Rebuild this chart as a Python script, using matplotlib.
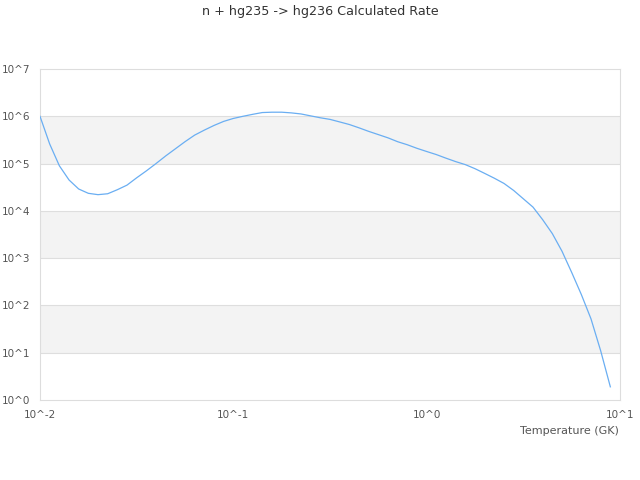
import math
import matplotlib
matplotlib.use("Agg")
import matplotlib.pyplot as plt
from matplotlib.ticker import FuncFormatter, FixedLocator

title = "n + hg235 -> hg236 Calculated Rate"
xlabel = "Temperature (GK)"

temperature = [
    0.01, 0.01122, 0.01259, 0.01413, 0.01585, 0.01778, 0.01995, 0.02239, 0.02512, 0.02818,
    0.03162, 0.03548, 0.03981, 0.04467, 0.05012, 0.05623, 0.0631, 0.07079, 0.07943, 0.08913,
    0.1, 0.1122, 0.1259, 0.1413, 0.1585, 0.1778, 0.1995, 0.2239, 0.2512, 0.2818,
    0.3162, 0.3548, 0.3981, 0.4467, 0.5012, 0.5623, 0.631, 0.7079, 0.7943, 0.8913,
    1.0, 1.122, 1.259, 1.413, 1.585, 1.778, 1.995, 2.239, 2.512, 2.818,
    3.162, 3.548, 3.981, 4.467, 5.012, 5.623, 6.31, 7.079, 7.943, 8.913,
]
rate = [
    1.0e6, 2.6e5, 9.0e4, 4.5e4, 2.9e4, 2.35e4, 2.2e4, 2.3e4, 2.8e4, 3.5e4,
    5.0e4, 7.0e4, 1.0e5, 1.45e5, 2.05e5, 2.9e5, 4.0e5, 5.1e5, 6.4e5, 7.8e5,
    9.0e5, 1.0e6, 1.1e6, 1.2e6, 1.22e6, 1.22e6, 1.18e6, 1.12e6, 1.02e6, 9.3e5,
    8.6e5, 7.6e5, 6.7e5, 5.7e5, 4.8e5, 4.1e5, 3.5e5, 2.9e5, 2.5e5, 2.1e5,
    1.8e5, 1.55e5, 1.3e5, 1.1e5, 9.5e4, 7.8e4, 6.2e4, 4.9e4, 3.8e4, 2.7e4,
    1.8e4, 1.2e4, 6.5e3, 3.3e3, 1.4e3, 5.0e2, 1.7e2, 52, 11, 1.9,
]
y_exponents = [0, 1, 2, 3, 4, 5, 6, 7]
x_exponents = [-2, -1, 0, 1]
band_exponents = [(1, 2), (3, 4), (5, 6)]

fig = plt.figure(figsize=(6.4, 4.8), dpi=100)
ax = fig.add_axes([40/640, 80/480, 580/640, 331/480])
ax.set_xscale("log")
ax.set_yscale("log")
ax.set_xlim(10**x_exponents[0], 10**x_exponents[-1])
ax.set_ylim(10**y_exponents[0], 10**y_exponents[-1])

for lo, hi in band_exponents:
    ax.axhspan(10**lo, 10**hi, color="#f3f3f3", zorder=0, lw=0)
for e in y_exponents[1:-1]:
    ax.axhline(10**e, color="#dedede", lw=0.8, zorder=1)

ax.plot(temperature, rate, color="#6aaef2", lw=0.9, zorder=3)

ax.yaxis.set_major_locator(FixedLocator([10**e for e in y_exponents]))
ax.xaxis.set_major_locator(FixedLocator([10**e for e in x_exponents]))
ax.yaxis.set_minor_locator(FixedLocator([]))
ax.xaxis.set_minor_locator(FixedLocator([]))
fmt = FuncFormatter(lambda v, p: "10^%d" % round(math.log10(v)))
ax.xaxis.set_major_formatter(fmt)
ax.yaxis.set_major_formatter(fmt)
ax.tick_params(axis="both", length=0, labelsize=7.5, labelcolor="#555555")
ax.tick_params(axis="y", pad=7)
ax.tick_params(axis="x", pad=7)
for s in ax.spines.values():
    s.set_color("#dddddd")
    s.set_linewidth(0.8)

fig.text(320/640, 1 - 12/480, title, ha="center", va="center", fontsize=9.2, color="#333333")
fig.text(619/640, 1 - 431/480, xlabel, ha="right", va="center", fontsize=8, color="#555555")

fig.savefig("out.png", dpi=100)
